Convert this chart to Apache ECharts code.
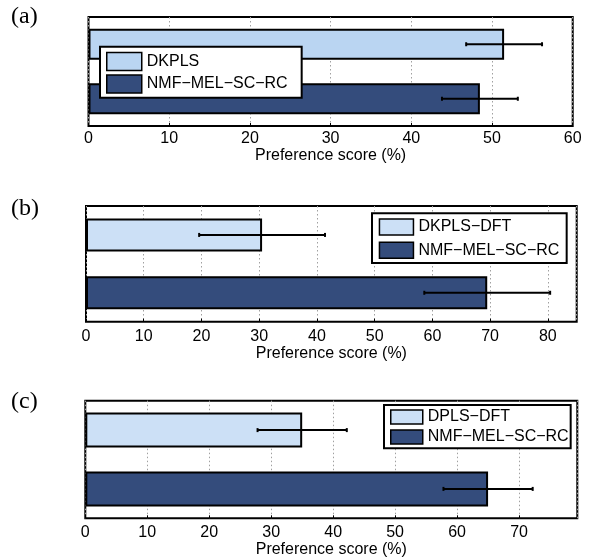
<!DOCTYPE html>
<html>
<head>
<meta charset="utf-8">
<script src="https://cdn.jsdelivr.net/npm/echarts@6/dist/echarts.min.js"></script>
<style>
html,body{margin:0;padding:0;background:#fff;}
#chart{width:591px;height:560px;}
</style>
</head>
<body>
<div id="chart"></div>
<script>
// ---- Data ----
const panelLabels = ['(a)', '(b)', '(c)'];
const axisTitle = 'Preference score (%)';

const namesA = ['DKPLS', 'NMF\u2212MEL\u2212SC\u2212RC'];
const scoresA = [51.5, 48.5];
const errA = [4.7, 4.7];
const xMaxA = 60;

const namesB = ['DKPLS\u2212DFT', 'NMF\u2212MEL\u2212SC\u2212RC'];
const scoresB = [30.5, 69.5];
const errB = [10.9, 10.9];
const xMaxB = 85;

const namesC = ['DPLS\u2212DFT', 'NMF\u2212MEL\u2212SC\u2212RC'];
const scoresC = [35, 65];
const errC = [7.2, 7.2];
const xMaxC = 79.4;

const tickInterval = 10;

// ---- Styles / layout ----
const FONT = '"Liberation Sans", Arial, Helvetica, sans-serif';
const DARK = '#344c7c';
const panels = [
  { names: namesA, scores: scoresA, err: errA, xMax: xMaxA, light: '#bad5f2',
    grid: { left: 88.5, right: 18.3, top: 17, height: 109 }, showMax: true,
    labelMargin: 5, nameGap: 19.5, barWidth: '57%',
    legend: { left: 100, top: 46.7, itemWidth: 35, itemHeight: 18, itemGap: 3, padding: [5, 14, 4, 6] },
    tag: { left: 11, top: 5 } },
  { names: namesB, scores: scoresB, err: errB, xMax: xMaxB, light: '#cce0f6',
    grid: { left: 86, right: 14.3, top: 206, height: 115.7 }, showMax: false,
    labelMargin: 7, nameGap: 21.5, barWidth: '57%',
    legend: { left: 372, top: 213.3, itemWidth: 34, itemHeight: 16, itemGap: 5.7, padding: [5, 7.3, 4, 6.7] },
    tag: { left: 11, top: 197 } },
  { names: namesC, scores: scoresC, err: errC, xMax: xMaxC, light: '#cce0f6',
    grid: { left: 85.3, right: 13.7, top: 400.7, height: 117.6 }, showMax: false,
    labelMargin: 6.5, nameGap: 22.5, barWidth: '59.5%',
    legend: { left: 384, top: 405, itemWidth: 32, itemHeight: 14, itemGap: 4, padding: [4, 2, 3.3, 6] },
    tag: { left: 11, top: 390 } }
];

function renderErr(params, api) {
  const lo = api.coord([api.value(0), api.value(2)]);
  const hi = api.coord([api.value(1), api.value(2)]);
  const c = 2;
  const style = { stroke: '#000', lineWidth: 2 };
  return {
    type: 'group',
    children: [
      { type: 'line', shape: { x1: lo[0], y1: lo[1], x2: hi[0], y2: hi[1] }, style: style },
      { type: 'line', shape: { x1: lo[0], y1: lo[1] - c, x2: lo[0], y2: lo[1] + c }, style: style },
      { type: 'line', shape: { x1: hi[0], y1: hi[1] - c, x2: hi[0], y2: hi[1] + c }, style: style }
    ]
  };
}

const grids = [], xAxes = [], yAxes = [], series = [], legends = [], graphics = [];
panels.forEach((p, k) => {
  grids.push(Object.assign({ show: true, borderColor: '#000', borderWidth: 2, backgroundColor: '#fff' }, p.grid));
  xAxes.push({
    gridIndex: k, type: 'value', min: 0, max: p.xMax, interval: tickInterval,
    name: axisTitle, nameLocation: 'middle', nameGap: p.nameGap,
    nameTextStyle: { fontFamily: FONT, fontSize: 16, color: '#000' },
    axisLine: { show: false },
    axisTick: { show: true, inside: true, length: 3, lineStyle: { color: '#000', width: 1 } },
    axisLabel: { fontFamily: FONT, fontSize: 16, color: '#000', margin: p.labelMargin, showMaxLabel: p.showMax, showMinLabel: true },
    splitLine: { show: true, lineStyle: { color: '#a0a0a0', width: 1, type: [1.5, 2.5] } }
  });
  yAxes.push({
    gridIndex: k, type: 'category', data: p.names, inverse: true,
    axisLine: { show: false }, axisTick: { show: false }, axisLabel: { show: false }, splitLine: { show: false }
  });
  series.push({
    type: 'bar', name: p.names[0], xAxisIndex: k, yAxisIndex: k,
    data: [p.scores[0], '-'], barWidth: p.barWidth, barGap: '-100%',
    itemStyle: { color: p.light, borderColor: '#000', borderWidth: 2 }, z: 2
  });
  series.push({
    type: 'bar', name: p.names[1], xAxisIndex: k, yAxisIndex: k,
    data: ['-', p.scores[1]], barWidth: p.barWidth, barGap: '-100%',
    itemStyle: { color: DARK, borderColor: '#000', borderWidth: 2 }, z: 2
  });
  series.push({
    type: 'custom', xAxisIndex: k, yAxisIndex: k, renderItem: renderErr,
    encode: { x: [0, 1], y: 2 }, z: 5, silent: true,
    data: p.scores.map((v, i) => [v - p.err[i], v + p.err[i], i])
  });
  legends.push(Object.assign({
    orient: 'vertical', data: [p.names[0], p.names[1]], icon: 'rect',
    borderColor: '#000', borderWidth: 2, backgroundColor: '#fff', borderRadius: 0,
    textStyle: { fontFamily: FONT, fontSize: 16, color: '#000', lineHeight: 16 },
    itemStyle: { borderColor: '#000', borderWidth: 1.5 },
    selectedMode: false, z: 6
  }, p.legend));
  graphics.push({
    type: 'text', left: p.tag.left, top: p.tag.top,
    style: { text: panelLabels[k], font: '24px "Liberation Serif", "Times New Roman", serif', fill: '#000' }
  });
});

const chart = echarts.init(document.getElementById('chart'), null, { renderer: 'canvas' });
chart.setOption({
  animation: false,
  backgroundColor: '#fff',
  grid: grids, xAxis: xAxes, yAxis: yAxes, series: series, legend: legends, graphic: graphics
});
</script>
</body>
</html>
